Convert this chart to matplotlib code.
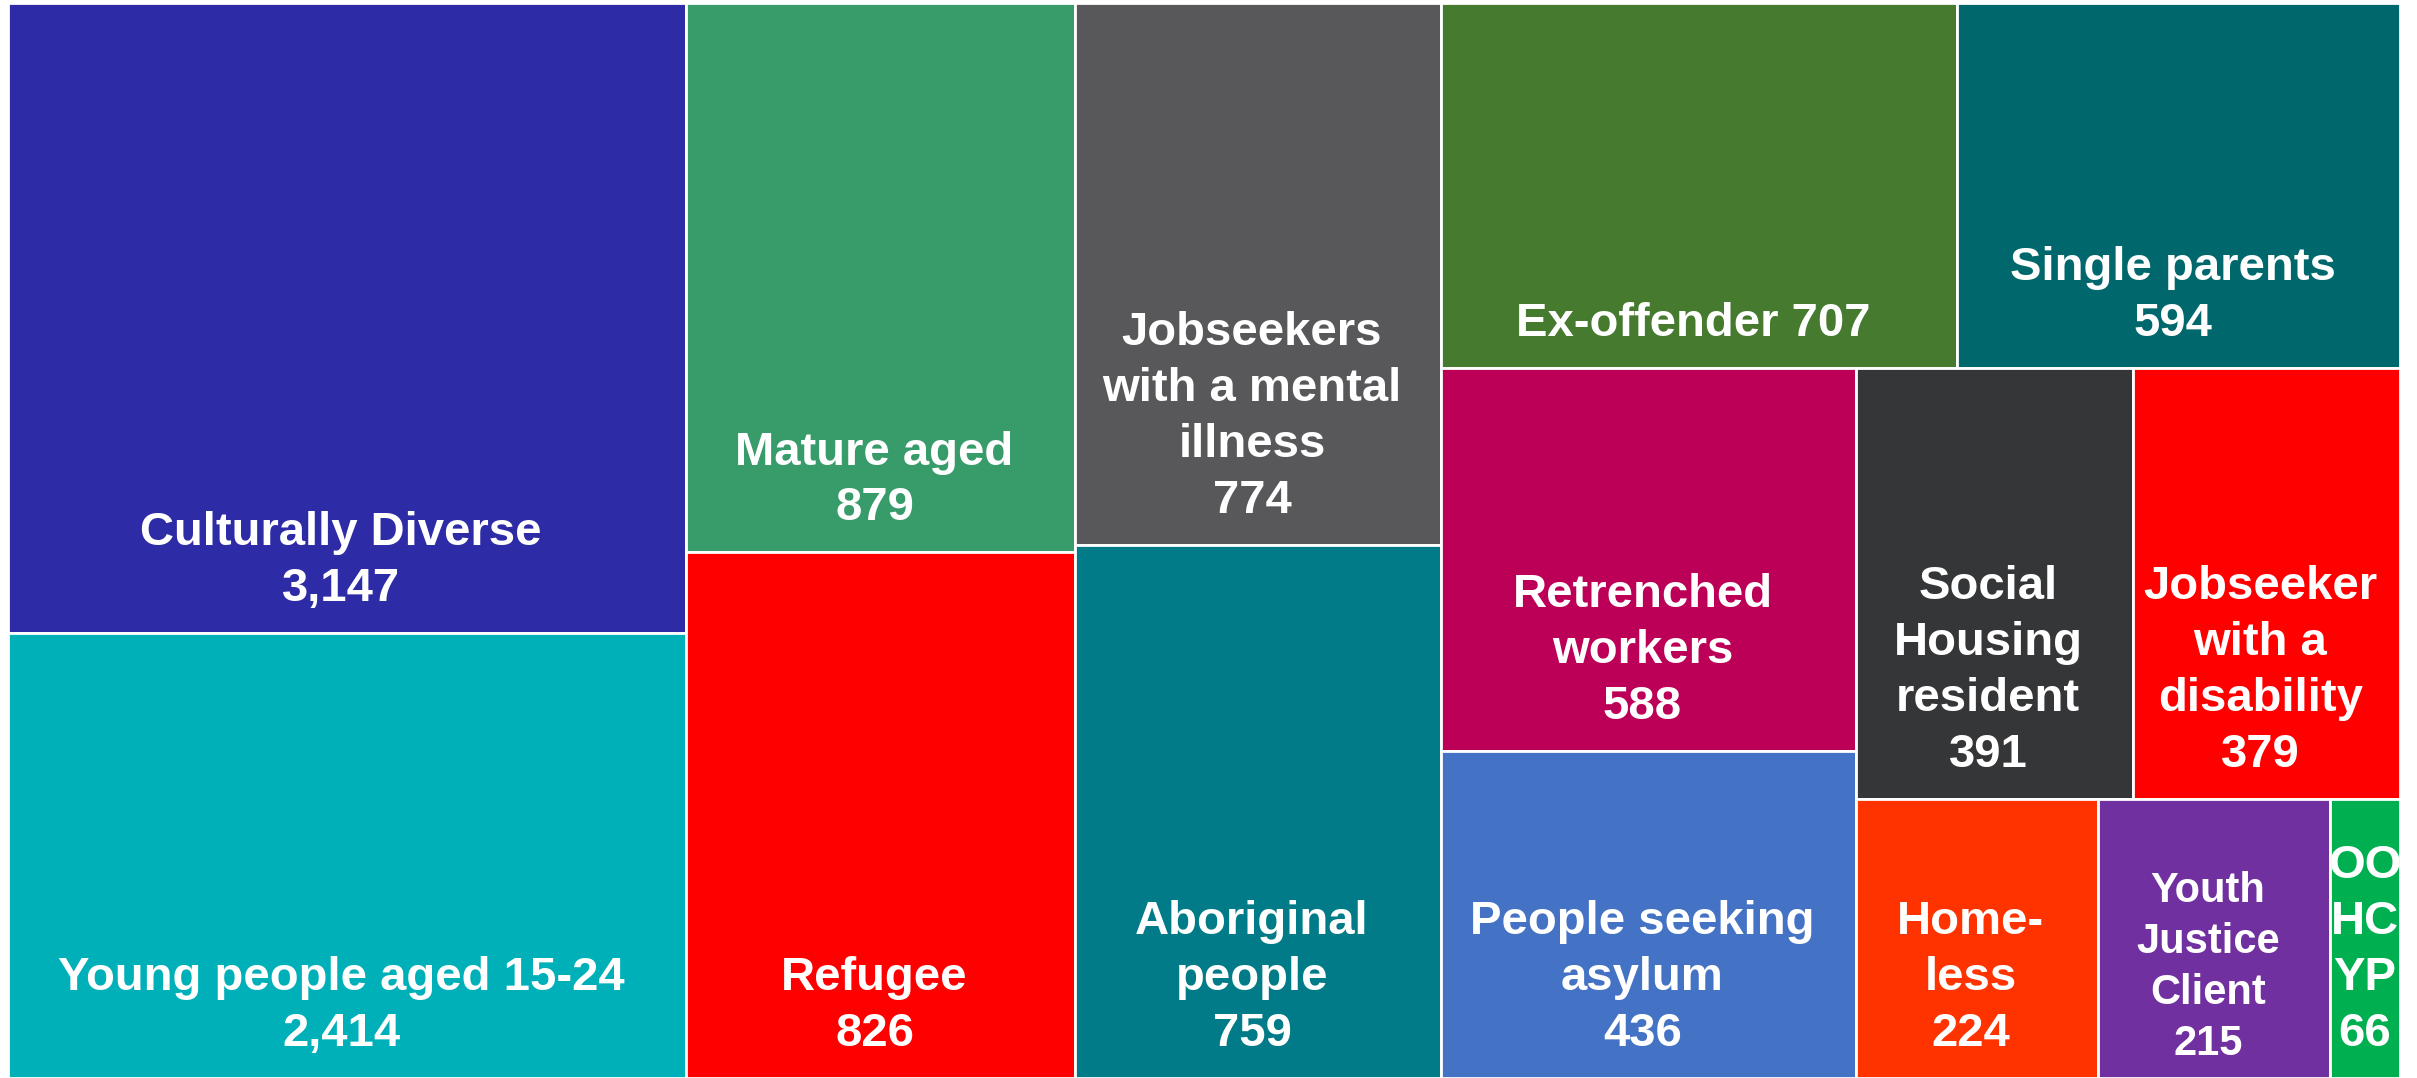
import matplotlib
matplotlib.use("Agg")
import matplotlib.pyplot as plt
from matplotlib.patches import Rectangle

# Treemap of cohorts - labels and counts
labels = ["Culturally Diverse", "Young people aged 15-24", "Mature aged", "Refugee",
          "Jobseekers\nwith a mental\nillness", "Aboriginal\npeople", "Ex-offender",
          "Single parents", "Retrenched\nworkers", "People seeking\nasylum",
          "Social\nHousing\nresident", "Jobseeker\nwith a\ndisability", "Home-\nless",
          "Youth\nJustice\nClient", "OO\nHC\nYP"]
counts = [3147, 2414, 879, 826, 774, 759, 707, 594, 588, 436, 391, 379, 224, 215, 66]
# tile sizes as drawn in the original chart (share of total area, per mille)
tile_share = [166.2, 117.4, 83.0, 79.4, 77.2, 76.0, 73.1, 62.8, 61.8, 52.7,
              46.5, 44.8, 26.3, 25.2, 7.6]
colours = ["#2E2BA7", "#00B0B9", "#389B6A", "#FF0000", "#58585B", "#007B87",
           "#467A2E", "#00686C", "#BC0058", "#4472C4", "#353638", "#FF0000",
           "#FF3300", "#7030A0", "#00B050"]


# simple squarified layout (Bruls et al.)
def layout_col(sizes, x, y, dx, dy):
    w = sum(sizes) / dy
    rects = []
    for s in sizes:
        h = s / w
        rects.append((x, y, w, h))
        y += h
    return rects


def layout_row(sizes, x, y, dx, dy):
    h = sum(sizes) / dx
    rects = []
    for s in sizes:
        w = s / h
        rects.append((x, y, w, h))
        x += w
    return rects


def layout(sizes, x, y, dx, dy):
    if dx >= dy:
        return layout_col(sizes, x, y, dx, dy)
    return layout_row(sizes, x, y, dx, dy)


def leftover(sizes, x, y, dx, dy):
    if dx >= dy:
        w = sum(sizes) / dy
        return x + w, y, dx - w, dy
    h = sum(sizes) / dx
    return x, y + h, dx, dy - h


def worst(sizes, x, y, dx, dy):
    return max(max(w / h, h / w) for (_, _, w, h) in layout(sizes, x, y, dx, dy))


def squarify(sizes, x, y, dx, dy):
    if len(sizes) == 0:
        return []
    if len(sizes) == 1:
        return layout(sizes, x, y, dx, dy)
    i = 1
    while i < len(sizes) and worst(sizes[:i], x, y, dx, dy) >= worst(sizes[:i + 1], x, y, dx, dy):
        i += 1
    cur = sizes[:i]
    lx, ly, ldx, ldy = leftover(cur, x, y, dx, dy)
    return layout(cur, x, y, dx, dy) + squarify(sizes[i:], lx, ly, ldx, ldy)


W, H = 2392, 1075
total = sum(tile_share)
sizes = [s * W * H / total for s in tile_share]
rects = squarify(sizes, 0, 0, W, H)

fig = plt.figure(figsize=(24.17, 10.78), dpi=100)
ax = fig.add_axes([8 / 2417, 0, W / 2417, H / 1078])
ax.set_xlim(0, W)
ax.set_ylim(H, 0)
ax.axis("off")

for i, (x, y, w, h) in enumerate(rects):
    ax.add_patch(Rectangle((x, y), w, h, facecolor=colours[i], edgecolor="white", linewidth=2))
    if labels[i] == "Ex-offender":
        txt = f"{labels[i]} {counts[i]:,}"
    else:
        txt = f"{labels[i]}\n{counts[i]:,}"
    small = labels[i].startswith("Youth")
    fs = 30 if small else 34
    shift = -6 if w > 150 else 0
    pad = 14 if small else 22
    ax.text(x + w / 2 + shift, y + h - pad, txt, ha="center", va="bottom", color="white",
            fontsize=fs, fontweight="bold", family="Liberation Sans", linespacing=1.35)

fig.savefig("out.png", dpi=100)
